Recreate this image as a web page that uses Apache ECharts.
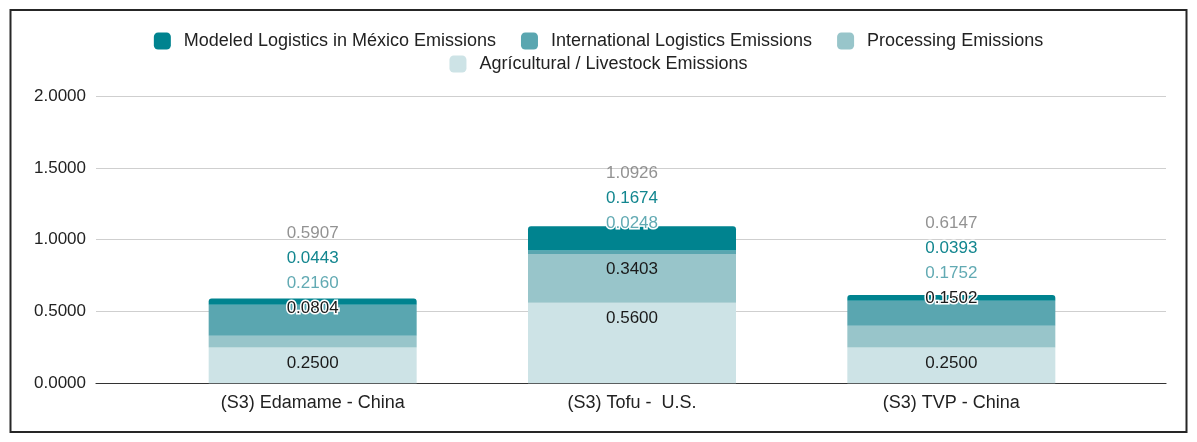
<!DOCTYPE html>
<html>
<head>
<meta charset="utf-8">
<style>
    html, body { margin: 0; padding: 0; background: #fff; }
    #chart { width: 1197px; height: 442px; }
</style>
<script src="https://cdn.jsdelivr.net/npm/echarts@6/dist/echarts.min.js"></script>
</head>
<body>
<div id="chart"></div>
<script>
const categories = ['(S3) Edamame - China', '(S3) Tofu -  U.S.', '(S3) TVP - China']
const agricultural = [0.2500, 0.5600, 0.2500]
const processing = [0.0804, 0.3403, 0.1502]
const international = [0.2160, 0.0248, 0.1752]
const modeled = [0.0443, 0.1674, 0.0393]
const totals = [0.5907, 1.0926, 0.6147]
const yTicks = [0, 0.5, 1, 1.5, 2]

const names = {
    mod: 'Modeled Logistics in México Emissions',
    intl: 'International Logistics Emissions',
    proc: 'Processing Emissions',
    agri: 'Agrícultural / Livestock Emissions',
}
const colors = { mod: '#00838f', intl: '#5aa6b0', proc: '#98c5ca', agri: '#cde3e6' }
const labelColors = { mod: '#12868f', intl: '#62aab3', proc: '#1a1a1a', agri: '#1a1a1a', total: '#777' }

// 标签相对于各段顶部的垂直偏移（px），仿 Google 表格的避让排布
const labelShift = {
    agri: [15.6, 15.6, 15.6],
    proc: [-27.3, 15, -27.8],
    intl: [-21.8, -27.4, -27.6],
    mod: [-40.4, -28.4, -47],
    total: [-65.4, -53.4, -72],
}

const font = 'Arial, "Liberation Sans", sans-serif'

const segLabel = (key, i) => {
    const dy = labelShift[key][i]
    const halo = dy < 0
    return {
        show: true,
        position: ['50%', 0],
        align: 'center',
        verticalAlign: 'middle',
        offset: [0, dy],
        fontSize: 17,
        fontFamily: font,
        color: labelColors[key],
        textBorderColor: halo ? '#fff' : 'transparent',
        textBorderWidth: halo ? 3 : 0,
        formatter: (p) => p.value.toFixed(4),
    }
}

const barSeries = (key, values, extra) => ({
    name: names[key],
    type: 'bar',
    stack: 'total',
    xAxisIndex: 1,
    yAxisIndex: 1,
    barWidth: 208,
    itemStyle: Object.assign({ color: colors[key] }, extra || {}),
    emphasis: { disabled: true },
    data: values.map((v, i) => ({ value: v, label: segLabel(key, i) })),
})

const chart = echarts.init(document.getElementById('chart'))

const option = {
    animation: false,
    textStyle: { fontFamily: font },
    graphic: [{
        type: 'rect',
        shape: { x: 10.5, y: 10, width: 1176, height: 422 },
        style: { fill: 'none', stroke: '#262626', lineWidth: 2 },
        silent: true,
    }],
    legend: [
        {
            data: [names.mod, names.intl, names.proc],
            top: 27,
            left: 'center',
            itemWidth: 17,
            itemHeight: 17,
            itemGap: 25,
            icon: 'roundRect',
            textStyle: { fontSize: 18, color: '#222', padding: [0, 0, 0, 8] },
        },
        {
            data: [names.agri],
            top: 50,
            left: 'center',
            itemWidth: 17,
            itemHeight: 17,
            icon: 'roundRect',
            textStyle: { fontSize: 18, color: '#222', padding: [0, 0, 0, 8] },
        },
    ],
    grid: [
        { left: 96, right: 31, top: 96, bottom: 58.7 },
        { left: 153, right: 86, top: 96, bottom: 58.7 },
    ],
    xAxis: [
        {
            type: 'value',
            gridIndex: 0,
            min: 0,
            max: 1,
            axisLine: { show: true, lineStyle: { color: '#333', width: 1.2 } },
            axisTick: { show: false },
            axisLabel: { show: false },
            splitLine: { show: false },
        },
        {
            type: 'category',
            gridIndex: 1,
            data: categories,
            axisLine: { show: false },
            axisTick: { show: false },
            axisLabel: { fontSize: 18, color: '#222', margin: 11 },
        },
    ],
    yAxis: [
        {
            type: 'value',
            gridIndex: 0,
            min: yTicks[0],
            max: yTicks[yTicks.length - 1],
            interval: yTicks[1] - yTicks[0],
            axisLine: { show: false },
            axisTick: { show: false },
            axisLabel: { fontSize: 17, color: '#222', margin: 10, formatter: (v) => v.toFixed(4) },
            splitLine: { lineStyle: { color: '#cfcfcf', width: 1.2 } },
        },
        {
            type: 'value',
            gridIndex: 1,
            min: yTicks[0],
            max: yTicks[yTicks.length - 1],
            show: false,
            splitLine: { show: false },
        },
    ],
    series: [
        barSeries('agri', agricultural),
        barSeries('proc', processing),
        barSeries('intl', international),
        barSeries('mod', modeled, { borderRadius: [3, 3, 0, 0] }),
        {
            name: 'total',
            type: 'scatter',
            xAxisIndex: 1,
            yAxisIndex: 1,
            symbolSize: 0,
            silent: true,
            data: totals.map((v, i) => ({
                value: v,
                label: {
                    show: true,
                    position: 'inside',
                    offset: [0, labelShift.total[i]],
                    fontSize: 17,
                    color: labelColors.total,
                    formatter: (p) => p.value.toFixed(4),
                },
            })),
        },
    ],
}

option && chart.setOption(option)
</script>
</body>
</html>
